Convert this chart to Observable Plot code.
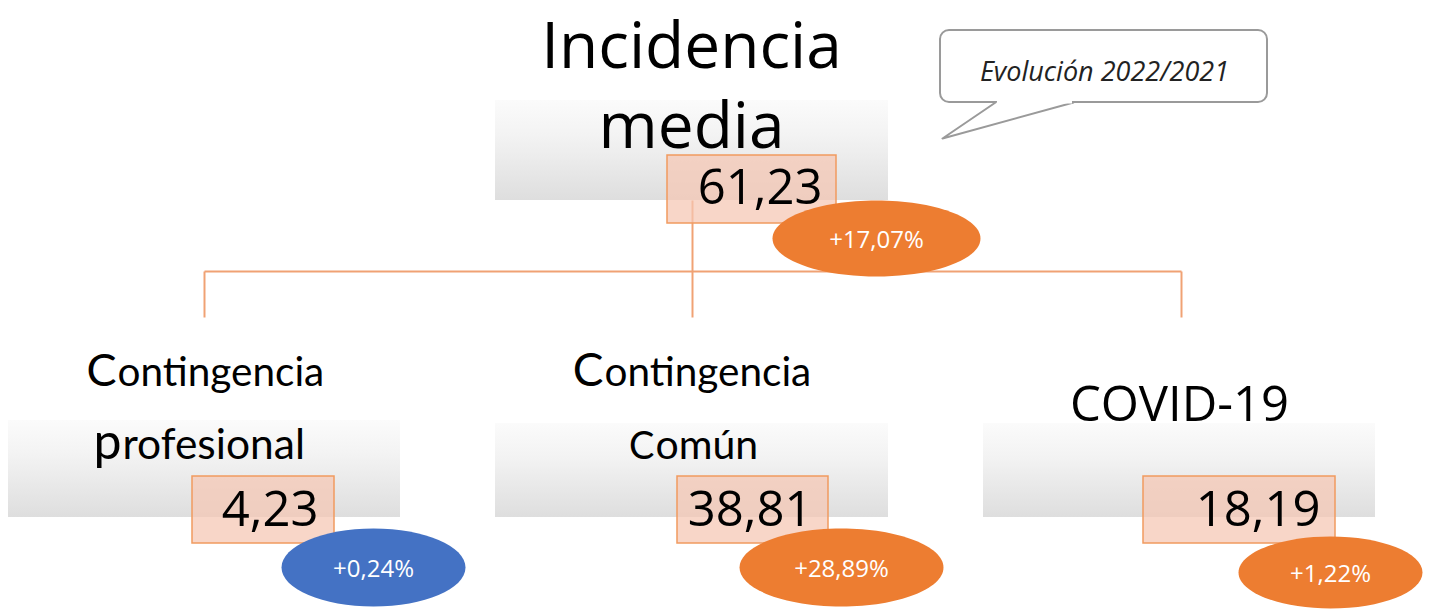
<!DOCTYPE html>
<html><head><meta charset="utf-8">
<script src="https://cdn.jsdelivr.net/npm/d3@7"></script>
<script src="https://cdn.jsdelivr.net/npm/@observablehq/plot@0.6"></script>
<style>body{margin:0;background:#fff;} #chart svg{display:block}</style>
</head><body><div id="chart"></div>
<script>
// ---- data ----
const nodeNames = ["Incidencia media", "Contingencia profesional", "Contingencia Común", "COVID-19"];
const nodeValues = [61.23, 4.23, 38.81, 18.19];
const nodeChanges = [17.07, 0.24, 28.89, 1.22];
const calloutLabel = "Evolución 2022/2021";

// ---- layout & style (pixel frame 1429 x 610) ----
const changeFill = ["#ed7d31", "#4472c4", "#ed7d31", "#ed7d31"];
const layout = [
  {box:[495,888,100,200], vbox:[667,836,155,223], vx:822, vy:203, ell:[876,238,104,38], kind:"title", cx:691, base:147},
  {box:[8,400,420,517], vbox:[192,334,476,543], vx:318, vy:525, ell:[373,567,92,39], kind:"split", split:[116,121], base:[385,458], big:[45,50], rest:[40.5,42.5]},
  {box:[495,888,423,517], vbox:[677,828,476,543], vx:812, vy:525, ell:[841,567,102,39], kind:"split", split:[603,654], base:[385,458], big:[46,38], rest:[40.5,41]},
  {box:[983,1375,423,517], vbox:[1143,1335,476,543], vx:1320, vy:525, ell:[1330,572,92,36], kind:"plain", cx:1179, base:420}
];
const connectors = [[204,271,1181,271],[204,271,204,317],[692,200,692,317],[1181,271,1181,317]];
const callout = {rect:[940,1267,30,102], tail:[[995,102],[942,138],[1073,102]], tx:1104, ty:80};

const es = d3.formatLocale({decimal:",", thousands:".", grouping:[3], currency:["","€"]});
const fmt = es.format(".2f");

const nodes = nodeNames.map((name, i) => ({name, value: nodeValues[i], change: nodeChanges[i], fill: changeFill[i], L: layout[i]}));

// split labels: big first letter + rest
const bigParts = [], restParts = [];
nodes.filter(d => d.L.kind === "split").forEach(d => {
  d.name.split(" ").forEach((w, j) => {
    bigParts.push({t: w[0], x: d.L.split[j], y: d.L.base[j], s: d.L.big[j]});
    restParts.push({t: w.slice(1), x: d.L.split[j] + 1, y: d.L.base[j], s: d.L.rest[j]});
  });
});

function ellipseSymbol(aspect) {
  return {draw(ctx, size) {
    const ry = Math.sqrt(size / Math.PI), rx = ry * aspect, k = 0.5522847;
    ctx.moveTo(rx, 0);
    ctx.bezierCurveTo(rx, k*ry, k*rx, ry, 0, ry);
    ctx.bezierCurveTo(-k*rx, ry, -rx, k*ry, -rx, 0);
    ctx.bezierCurveTo(-rx, -k*ry, -k*rx, -ry, 0, -ry);
    ctx.bezierCurveTo(k*rx, -ry, rx, -k*ry, rx, 0);
    ctx.closePath();
  }};
}

const defs = () => {
  const d = d3.create("svg:defs");
  const g = d.append("linearGradient").attr("id", "greyGrad").attr("x1", 0).attr("y1", 0).attr("x2", 0).attr("y2", 1);
  g.append("stop").attr("offset", "0%").attr("stop-color", "#fbfbfb");
  g.append("stop").attr("offset", "35%").attr("stop-color", "#f3f3f3");
  g.append("stop").attr("offset", "100%").attr("stop-color", "#dedede");
  return d.node();
};

const chart = Plot.plot({
  width: 1429, height: 610,
  margin: 0,
  x: {domain: [0, 1429], range: [0, 1429], axis: null},
  y: {domain: [0, 610], range: [0, 610], axis: null},
  style: {fontFamily: "'Open Sans', sans-serif", background: "#fff", overflow: "visible"},
  marks: [
    defs,
    // grey gradient boxes
    Plot.rect(nodes, {x1: d => d.L.box[0], x2: d => d.L.box[1], y1: d => d.L.box[2], y2: d => d.L.box[3], fill: "url(#greyGrad)"}),
    // connectors
    Plot.link(connectors, {x1: d => d[0], y1: d => d[1], x2: d => d[2], y2: d => d[3], stroke: "#f0a274", strokeWidth: 2}),
    // labels
    Plot.text(nodes.filter(d => d.L.kind === "title"), {x: d => d.L.cx, y: d => d.L.base, text: d => d.name.replace(" ", "\n"), fontSize: 64, lineHeight: 1.25, lineAnchor: "bottom", fill: "#000"}),
    Plot.text(nodes.filter(d => d.L.kind === "plain"), {x: d => d.L.cx, y: d => d.L.base, text: d => d.name, fontSize: 49, lineAnchor: "bottom", fill: "#000"}),
    Plot.text(bigParts, {x: "x", y: "y", text: "t", fontSize: "s", textAnchor: "end", lineAnchor: "bottom", fontFamily: "Lato", fill: "#000"}),
    Plot.text(restParts, {x: "x", y: "y", text: "t", fontSize: "s", textAnchor: "start", lineAnchor: "bottom", fontFamily: "Lato", fill: "#000"}),
    // value boxes
    Plot.rect(nodes, {x1: d => d.L.vbox[0], x2: d => d.L.vbox[1], y1: d => d.L.vbox[2], y2: d => d.L.vbox[3], fill: "#f5c6b3", fillOpacity: 0.72, stroke: "#f19a5f", strokeWidth: 1.5}),
    Plot.text(nodes, {x: d => d.L.vx, y: d => d.L.vy, text: d => fmt(d.value), fontSize: 49, textAnchor: "end", lineAnchor: "bottom", fill: "#000"}),
    // change ellipses
    ...nodes.map(d => Plot.dot([d], {x: d.L.ell[0], y: d.L.ell[1], r: d.L.ell[3], symbol: ellipseSymbol(d.L.ell[2] / d.L.ell[3]), fill: d.fill, stroke: "none"})),
    Plot.text(nodes, {x: d => d.L.ell[0], y: d => d.L.ell[1] + 9, text: d => "+" + fmt(d.change) + "%", fontSize: 24, lineAnchor: "bottom", fill: "#fff"}),
    // callout
    Plot.rect([callout], {x1: d => d.rect[0], x2: d => d.rect[1], y1: d => d.rect[2], y2: d => d.rect[3], rx: 9, fill: "#fff", stroke: "#9a9a9a", strokeWidth: 2}),
    Plot.line(callout.tail, {x: d => d[0], y: d => d[1], fill: "#fff", stroke: "#9a9a9a", strokeWidth: 2, curve: "linear"}),
    Plot.link([callout], {x1: d => d.tail[0][0] + 1.5, x2: d => d.tail[2][0] - 1.5, y1: d => d.rect[3] - 0.5, y2: d => d.rect[3] - 0.5, stroke: "#fff", strokeWidth: 3}),
    Plot.text([callout], {x: "tx", y: "ty", text: () => calloutLabel, fontSize: 27, fontStyle: "italic", lineAnchor: "bottom", fill: "#222"})
  ]
});
document.getElementById("chart").appendChild(chart);
</script></body></html>
